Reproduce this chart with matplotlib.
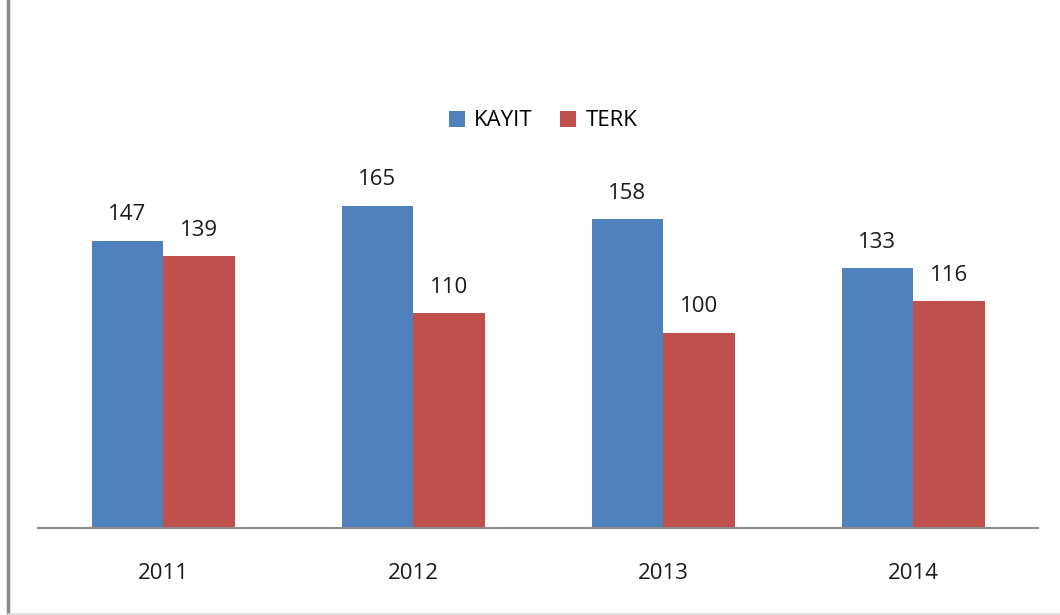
import matplotlib
matplotlib.use("Agg")
import matplotlib.pyplot as plt
from matplotlib.lines import Line2D
import numpy as np

years = ['2011', '2012', '2013', '2014']
kayit = [147, 165, 158, 133]
terk = [139, 110, 100, 116]

plt.rcParams['font.family'] = ['Open Sans', 'DejaVu Sans']

fig = plt.figure(figsize=(10.6, 6.15), dpi=100)
ax = fig.add_axes([38 / 1060, 87 / 615, 1000 / 1060, 469 / 615])

x = np.arange(len(years))
w = 0.286
b1 = ax.bar(x - w / 2, kayit, w, color='#4F81BD', label='KAYIT')
b2 = ax.bar(x + w / 2, terk, w, color='#C0504D', label='TERK')

for bars, vals in [(b1, kayit), (b2, terk)]:
    for r, v in zip(bars, vals):
        ax.annotate(str(v), (r.get_x() + r.get_width() / 2, v),
                    xytext=(0, 11), textcoords='offset points',
                    ha='center', va='bottom', fontsize=16, color='#1a1a1a')

ax.set_xlim(-0.5, 3.5)
ax.set_ylim(0, 240)
ax.set_xticks(x)
ax.set_xticklabels(years, fontsize=16, color='#1a1a1a')
ax.tick_params(axis='x', length=0, pad=25)
ax.set_yticks([])
for s in ['top', 'left', 'right']:
    ax.spines[s].set_visible(False)
ax.spines['bottom'].set_color('#8c8c8c')
ax.spines['bottom'].set_linewidth(1.5)

ax.legend(loc='center', bbox_to_anchor=(543 / 1060, 1 - 121 / 615),
          bbox_transform=fig.transFigure, ncol=2, frameon=False,
          fontsize=16, handlelength=0.75, handleheight=0.75,
          handletextpad=0.4, columnspacing=1.2)

# chart frame edges
fig.add_artist(Line2D([8 / 1060, 8 / 1060], [0, 1], color='#888888', lw=2.5))
fig.add_artist(Line2D([8 / 1060, 1], [1.5 / 615, 1.5 / 615], color='#d9d9d9', lw=1.2))

fig.savefig('out.png', dpi=100)
